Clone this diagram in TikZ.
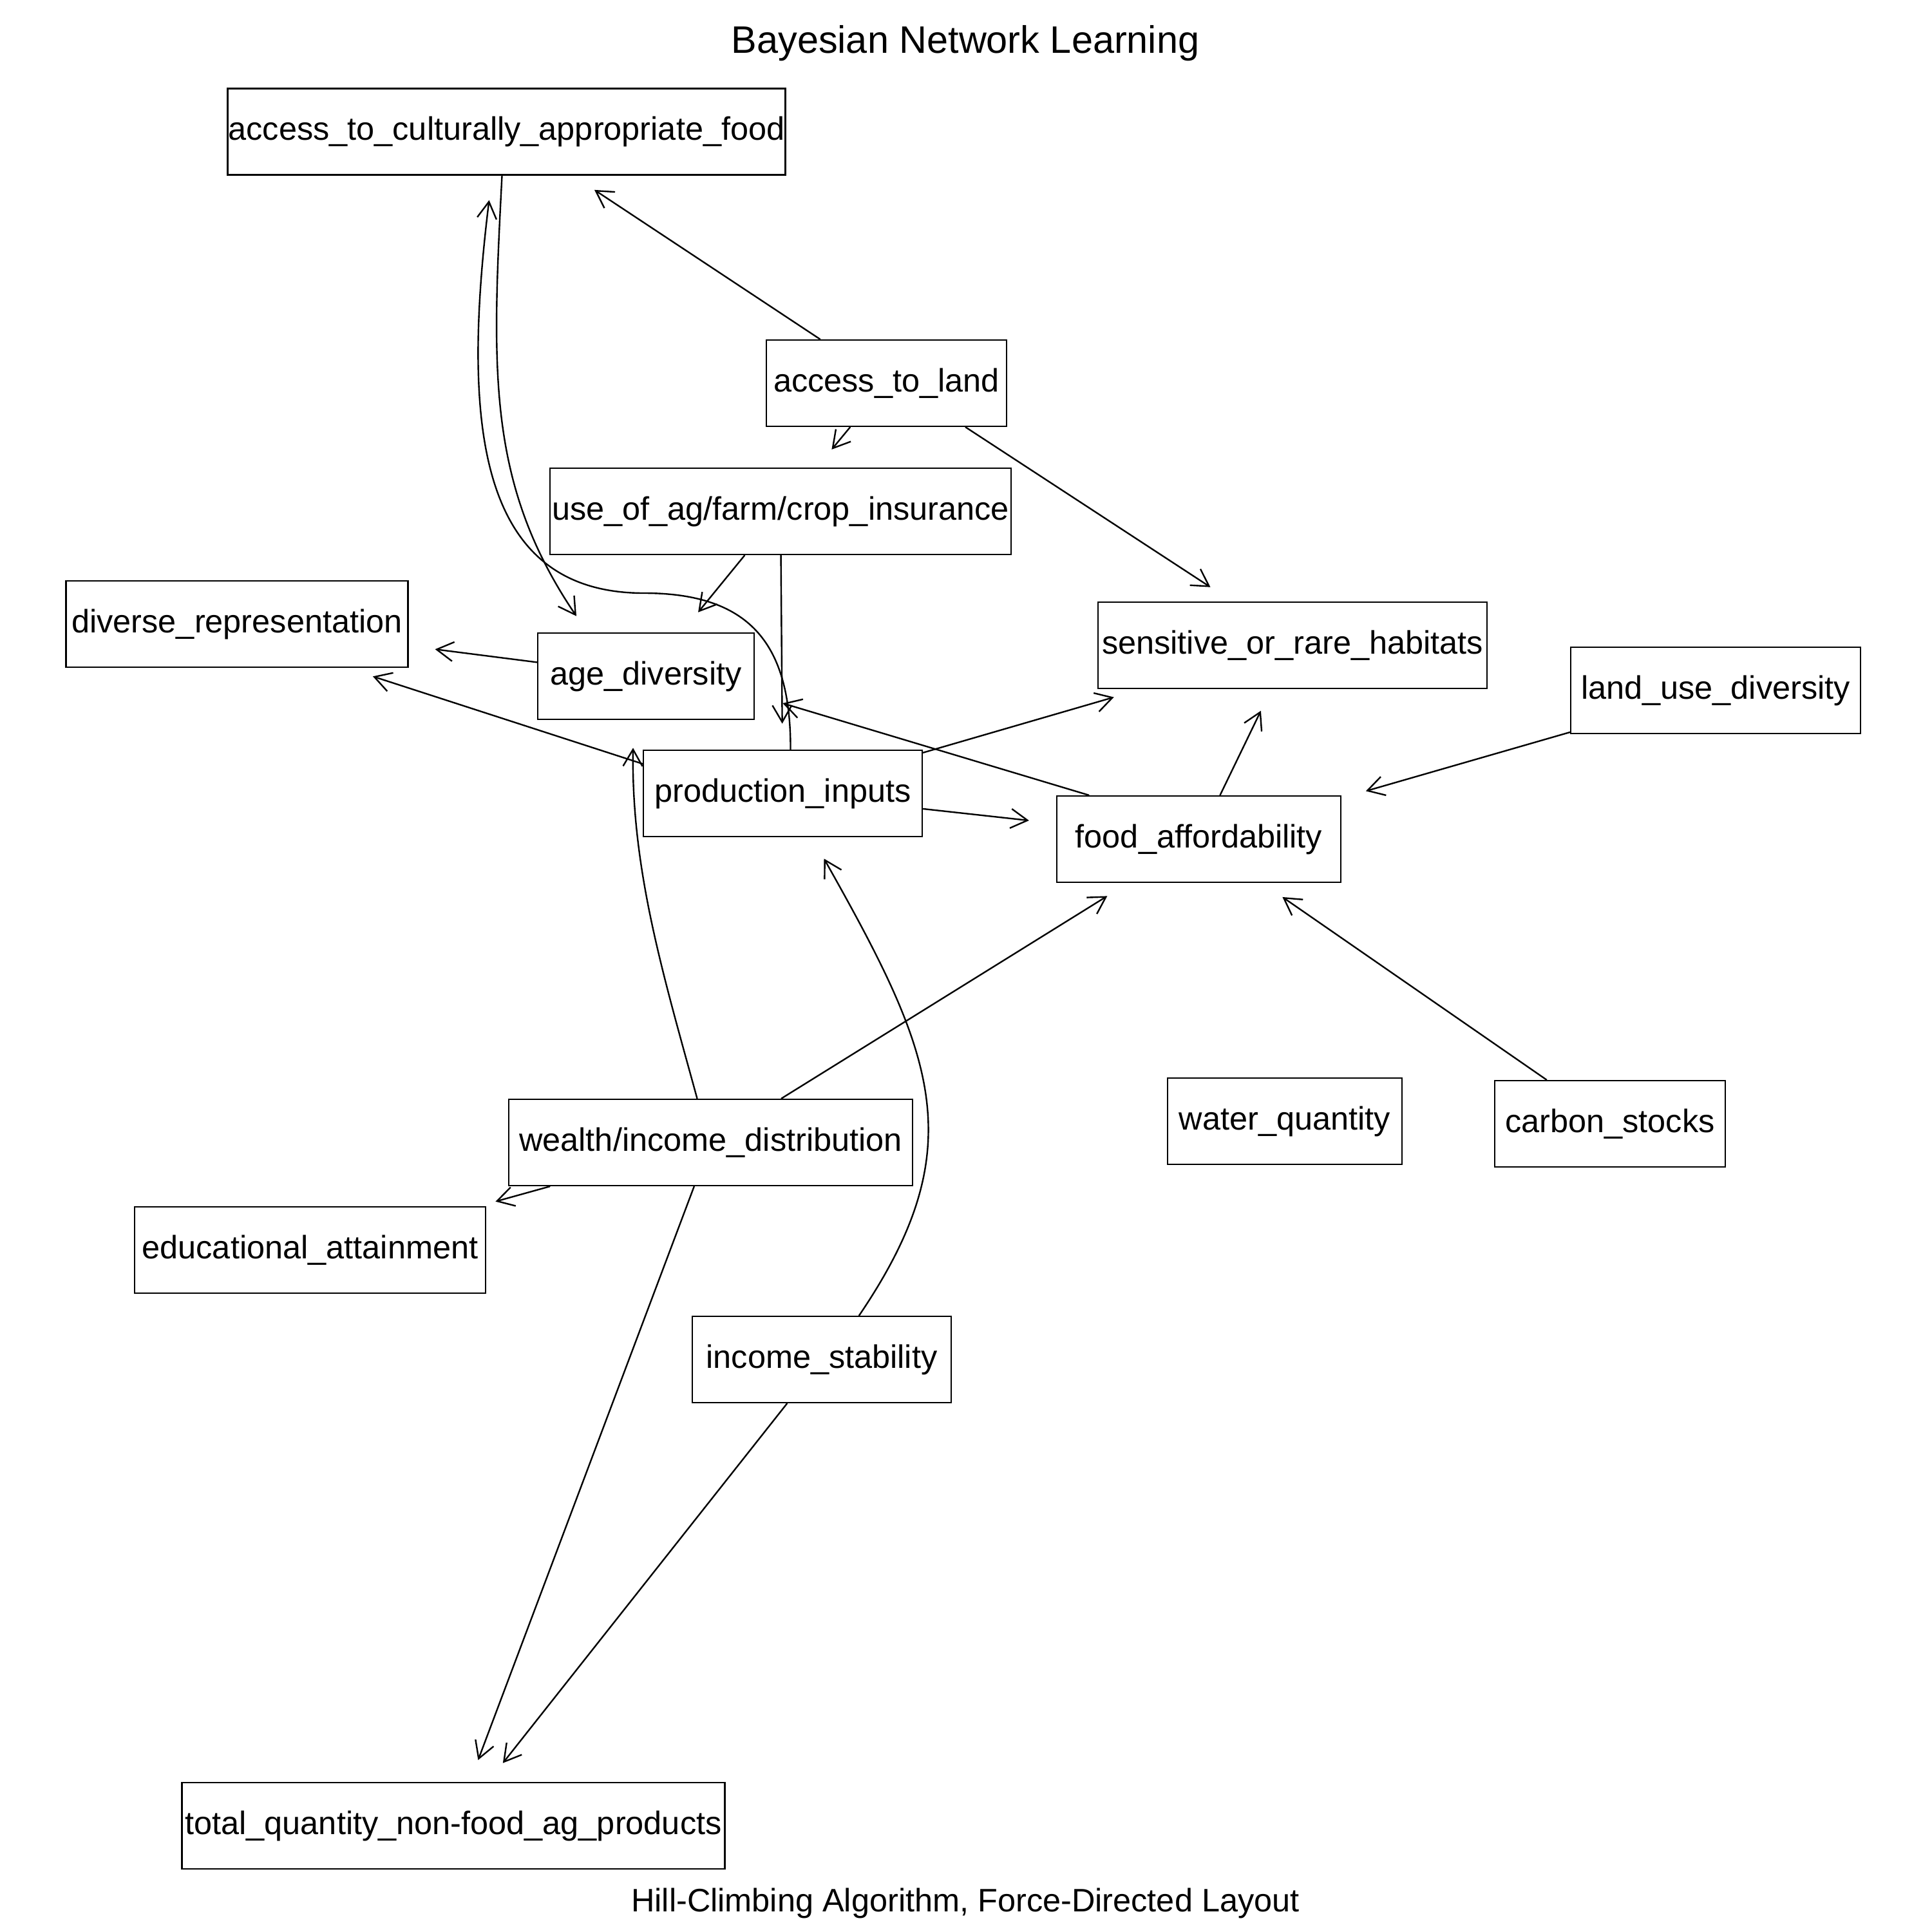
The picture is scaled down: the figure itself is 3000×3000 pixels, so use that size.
\documentclass[tikz,border=0pt]{standalone}
\usepackage{fontspec}
\setmainfont{Liberation Sans}
\usetikzlibrary{arrows.meta,calc}

\begin{document}
\begin{tikzpicture}[x=0.01cm, y=-0.01cm,
  var/.style={draw, line width=0.72pt, rectangle, inner sep=0pt,
    minimum height=1.34cm, font=\fontsize{14.35}{17}\selectfont,
    text height=10.5pt, text depth=3pt},
  edge/.style={line width=0.68pt, line cap=round,
    -{Straight Barb[length=0.26cm, width=0.30cm]}},
  caption/.style={inner sep=0pt, anchor=base}
]
\useasboundingbox (0,0) rectangle (3000,3000);

% titles
\node[caption, font=\fontsize{16.9}{20}\selectfont] (title) at (1499,83) {Bayesian Network Learning};
\node[caption, font=\fontsize{14.35}{17}\selectfont] (subtitle) at (1499,2968) {Hill-Climbing Algorithm, Force-Directed Layout};

% variables
\node[var, minimum width=8.65cm] (acaf) at (786.5,204.5) {access\_to\_culturally\_appropriate\_food};
\node[var, minimum width=3.73cm] (atl)  at (1376.5,595)  {access\_to\_land};
\node[var, minimum width=7.16cm] (uoa)  at (1212,794)    {use\_of\_ag/farm/crop\_insurance};
\node[var, minimum width=5.31cm] (dr)   at (368,969)     {diverse\_representation};
\node[var, minimum width=3.36cm] (age)  at (1003,1050)   {age\_diversity};
\node[var, minimum width=6.04cm] (srh)  at (2007,1002)   {sensitive\_or\_rare\_habitats};
\node[var, minimum width=4.50cm] (lud)  at (2664,1072)   {land\_use\_diversity};
\node[var, minimum width=4.33cm] (prod) at (1215.5,1232) {production\_inputs};
\node[var, minimum width=4.41cm] (fa)   at (1861.5,1303) {food\_affordability};
\node[var, minimum width=6.27cm] (wid)  at (1103.5,1774) {wealth/income\_distribution};
\node[var, minimum width=3.64cm] (wq)   at (1995,1741)   {water\_quantity};
\node[var, minimum width=3.58cm] (cs)   at (2500,1745)   {carbon\_stocks};
\node[var, minimum width=5.45cm] (ea)   at (481.5,1941)  {educational\_attainment};
\node[var, minimum width=4.02cm] (is)   at (1276,2111)   {income\_stability};
\node[var, minimum width=8.42cm] (tq)   at (704,2835)    {total\_quantity\_non-food\_ag\_products};

% arcs
\draw[edge, shorten >=0.40cm] (atl) -- (acaf);
\draw[edge, shorten >=0.36cm] (atl) -- (uoa);
\draw[edge] ($(atl.south east)+(-65,0)$) -- ($(srh.north west)+(176,-22)$);
\draw[edge] ($(acaf.south)+(-7,0)$) .. controls (764,572) and (755,750) .. ($(age.north)+(-108,-25)$);
\draw[edge] ($(prod.north)+(12,0)$) .. controls (1228,1006) and (1170,921) .. (1000,921)
            .. controls (740,921) and (717,656) .. ($(acaf.south)+(-27,38)$);
\draw[edge, shorten >=0.40cm] (uoa) -- (age);
\draw[edge, shorten >=0.40cm] (uoa) -- (prod);
\draw[edge, shorten >=0.41cm] (age) -- (dr);
\draw[edge] ($(prod.west)+(0,-46)$) -- ($(dr.south east)+(-56,13)$);
\draw[edge, shorten >=0.44cm] (prod) -- (srh);
\draw[edge, shorten >=0.42cm] (prod) -- (fa);
\draw[edge] ($(fa.north west)+(51,0)$) -- ($(age.east)+(43,42)$);
\draw[edge, shorten >=0.37cm] (fa) -- (srh);
\draw[edge, shorten >=0.39cm] (lud) -- (fa);
\draw[edge, shorten >=0.38cm] (cs) -- (fa);
\draw[edge, shorten >=0.38cm] (wid) -- (fa);
\draw[edge] ($(wid.north)+(-21,0)$) .. controls (1030,1514) and (980,1350) .. ($(age.south)+(-20,43)$);
\draw[edge] ($(is.north)+(58,0)$) .. controls (1513,1779) and (1450,1636) .. ($(prod.south)+(64,33)$);
\draw[edge] ($(wid.south west)+(65,0)$) -- ($(ea.north east)+(14,-7)$);
\draw[edge, shorten >=0.36cm] (wid) -- (tq);
\draw[edge, shorten >=0.37cm] (is) -- (tq);
\end{tikzpicture}
\end{document}
